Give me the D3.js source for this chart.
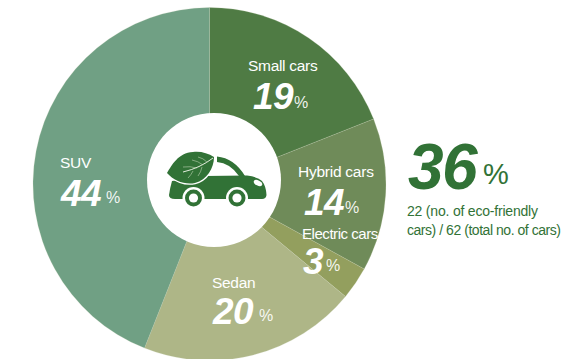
<!DOCTYPE html>
<html>
<head>
<meta charset="utf-8">
<script src="https://cdn.jsdelivr.net/npm/d3@7"></script>
<style>
html,body{margin:0;padding:0;background:#fff}
svg{display:block}
text{font-family:"Liberation Sans",Roboto,sans-serif}
</style>
</head>
<body>
<svg id="chart" width="563" height="359"></svg>
<script>
const categories = ["Small cars", "Hybrid cars", "Electric cars", "Sedan", "SUV"];
const shares = [19, 14, 3, 20, 44];
const sliceColors = ["#4f7b44", "#6f8b59", "#939f5e", "#aeb687", "#70a084"];
const totalShare = 36;
const totalNote = ["22 (no. of eco-friendly", "cars) / 62 (total no. of cars)"];

const cx = 209.5, cy = 184, outerR = 176.5;
const ink = "#317236";

const svg = d3.select("#chart");

const pie = d3.pie().sort(null).value(d => d)(shares);
const arc = d3.arc().innerRadius(0).outerRadius(outerR);

svg.append("g").attr("transform", `translate(${cx},${cy})`)
  .selectAll("path").data(pie).join("path")
  .attr("d", arc)
  .attr("fill", (d, i) => sliceColors[i])
  .attr("stroke", "#c9d3b8")
  .attr("stroke-opacity", 0.35)
  .attr("stroke-width", 0.6);

// white hub sits slightly off the pie's own centre
svg.append("circle").attr("cx", 214).attr("cy", 180).attr("r", 67).attr("fill", "#fff");

// slice captions: name, large share, small percent sign
const labelPos = [
  {nx: 248, y: 71, fs: 15.5, ls: -0.3, vx: 253, vy: 109, px: 294, py: 108},
  {nx: 298, y: 177, fs: 15.5, ls: -0.25, vx: 304, vy: 215, px: 345, py: 213},
  {nx: 302, y: 239, fs: 15, ls: -0.45, vx: 303, vy: 274, px: 326, py: 271},
  {nx: 212, y: 288, fs: 15.5, ls: -0.3, vx: 213, vy: 324, px: 259, py: 321},
  {nx: 60, y: 168, fs: 15.5, ls: -0.3, vx: 61, vy: 206, px: 106, py: 203}
];
const labels = svg.append("g").selectAll("g").data(categories).join("g");
labels.append("text")
  .attr("x", (d, i) => labelPos[i].nx).attr("y", (d, i) => labelPos[i].y)
  .attr("fill", "#fff").attr("font-size", (d, i) => labelPos[i].fs)
  .attr("letter-spacing", (d, i) => labelPos[i].ls)
  .text(d => d);
labels.append("text")
  .attr("x", (d, i) => labelPos[i].vx).attr("y", (d, i) => labelPos[i].vy)
  .attr("fill", "#fff").attr("font-size", 37)
  .attr("font-weight", 700).attr("font-style", "italic")
  .attr("letter-spacing", -0.5)
  .text((d, i) => shares[i]);
labels.append("text")
  .attr("x", (d, i) => labelPos[i].px).attr("y", (d, i) => labelPos[i].py)
  .attr("fill", "#fff").attr("fill-opacity", 0.92).attr("font-size", 16)
  .text("%");

// headline figure beside the pie
svg.append("text").attr("x", 408).attr("y", 188.5)
  .attr("fill", ink).attr("font-size", 64).attr("font-weight", 700).attr("font-style", "italic")
  .attr("letter-spacing", -1.5).text(totalShare);
svg.append("text").attr("x", 483).attr("y", 183.5)
  .attr("fill", ink).attr("font-size", 29).text("%");
svg.append("g").selectAll("text").data(totalNote).join("text")
  .attr("x", 407).attr("y", (d, i) => 216 + i * 18.5)
  .attr("fill", ink).attr("font-size", 14)
  .attr("letter-spacing", (d, i) => i === 0 ? -0.2 : -0.46)
  .text(d => d);

// car with a leaf on its cargo bed
const icon = svg.append("g");
// roof band
icon.append("path").attr("fill", ink)
  .attr("d", "M217 156.5 Q234 158 245 176 L239 176 Q230 163 217 162 Z");
// body
icon.append("path").attr("fill", ink)
  .attr("d", "M172 181 L205 176 L247 175.5 Q258 177 262 181 Q266 186 266.5 195 Q266 199 262 199 L175 199 Q169 199 169 195 Q170 188 172 181 Z");
// windscreen glint
icon.append("ellipse").attr("cx", 258).attr("cy", 183).attr("rx", 4.5).attr("ry", 2.6)
  .attr("fill", "#fff").attr("transform", "rotate(25 258 183)");
// wheels
[193.5, 237].forEach(x => {
  icon.append("circle").attr("cx", x).attr("cy", 198).attr("r", 11).attr("fill", "#fff");
  icon.append("circle").attr("cx", x).attr("cy", 198).attr("r", 8.5).attr("fill", ink);
  icon.append("circle").attr("cx", x).attr("cy", 198).attr("r", 4.6).attr("fill", "#fff");
});
// leaf with a white keyline and pale veins
icon.append("path").attr("fill", ink).attr("stroke", "#fff").attr("stroke-width", 2.6).attr("paint-order", "stroke")
  .attr("d", "M167 173 C172 165 178 153 193 152 C200 151 208 153 214 157 C214 168 207 180 195 183 C185 185 174 181 167 173 Z");
icon.append("path").attr("fill", "none").attr("stroke", "#e4eede").attr("stroke-width", 1)
  .attr("d", "M213 158 Q200 168 183 172");
icon.append("path").attr("fill", "none").attr("stroke", "#bcd2b2").attr("stroke-width", 0.6)
  .attr("d", "M203 165 Q198 161 192 160 M197 168 Q190 166 183 167 M207 162 Q203 158 198 157 M202 167 Q201 172 198 176 M193 171 Q191 175 188 178");
</script>
</body>
</html>
